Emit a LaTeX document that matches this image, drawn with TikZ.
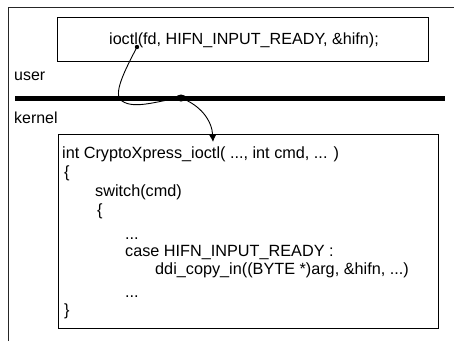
\documentclass[tikz,border=0pt]{standalone}
\usepackage{fontspec}
\setmainfont{Liberation Sans}
\usetikzlibrary{arrows.meta}
\begin{document}
\begin{tikzpicture}[x=1bp,y=-1bp,
  frame/.style={draw=black!85,line width=0.8bp},
  box/.style={draw=black,line width=1.1bp},
  codeline/.style={anchor=base west,inner sep=0pt,font=\fontsize{16.3}{19}\selectfont},
  lbl/.style={anchor=base west,inner sep=0pt,font=\fontsize{16}{19}\selectfont},
  flow/.style={line width=0.9bp,-{Latex[length=7bp,width=7bp]}}]
\useasboundingbox (0,0) rectangle (454,341);
% outer frame (top and left edges)
\draw[frame] (8,341) -- (8,7) -- (454,7);
% user-space call
\node[box,minimum width=371bp,minimum height=44bp,inner sep=0pt,anchor=north west] (call) at (57,17) {};
\node[inner sep=0pt,font=\fontsize{16.2}{19}\selectfont] (calltext) at (244,40) {ioctl(fd, HIFN\_INPUT\_READY, \&hifn);};
% user / kernel boundary
\node[lbl] (user) at (14,80) {user};
\node[lbl] (kernel) at (14,123) {kernel};
\coordinate (bl) at (15,98);
\coordinate (br) at (445,98);
\draw[line width=5bp] (bl) -- (br);
% kernel handler
\node[box,minimum width=380bp,minimum height=194bp,inner sep=0pt,anchor=north west] (handler) at (58,134) {};
\node[codeline] (c1) at (62,158) {int CryptoXpress\_ioctl( ..., int cmd, ... )};
\node[codeline] (c2) at (64,177) {\{};
\node[codeline] (c3) at (95,196) {switch(cmd)};
\node[codeline] (c4) at (97,215) {\{};
\node[codeline] (c5) at (125,239) {...};
\node[codeline] (c6) at (125,256) {case HIFN\_INPUT\_READY :};
\node[codeline] (c7) at (155,274) {ddi\_copy\_in((BYTE *)arg, \&hifn, ...)};
\node[codeline] (c8) at (125,297) {...};
\node[codeline] (c9) at (64,315) {\}};
% call path from user space into the handler
\coordinate (src) at (137,47);
\coordinate (cross) at (181,98);
\coordinate (tip) at (213,142);
\fill (src) circle (2.2bp);
\fill (cross) ellipse (5bp and 3.5bp);
\draw[line width=0.9bp] (src) .. controls (125,70) and (112,95) .. (122,101)
  .. controls (135,110) and (160,100) .. (cross);
\draw[flow] (cross) .. controls (200,105) and (212,120) .. (tip);
\end{tikzpicture}
\end{document}
